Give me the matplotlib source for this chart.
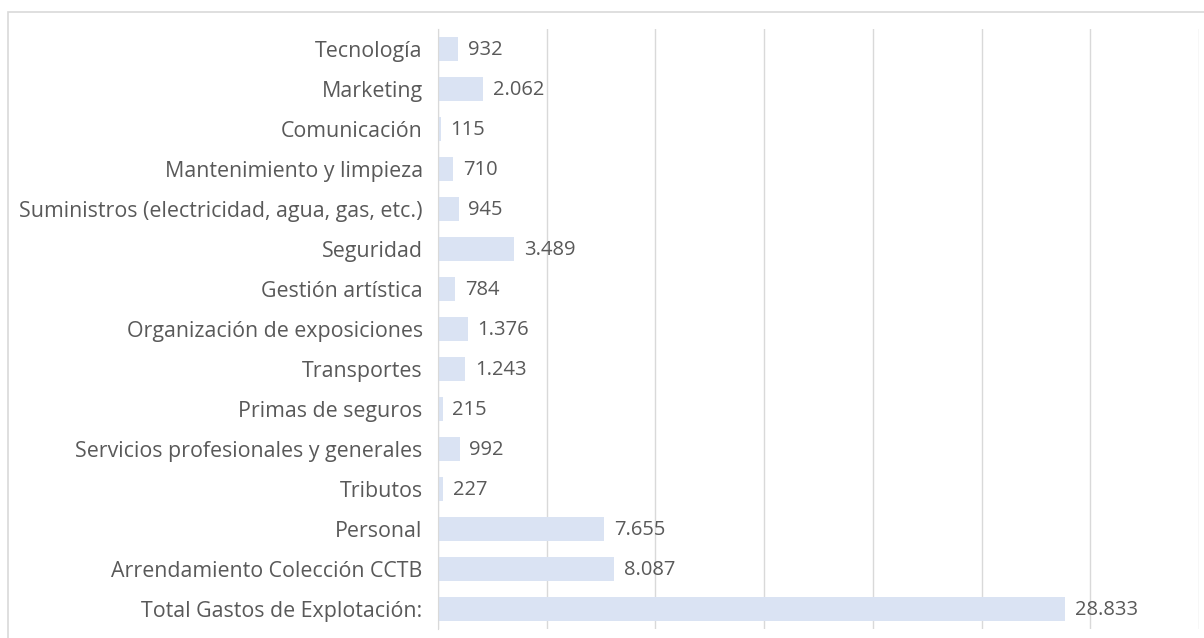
import matplotlib
matplotlib.use("Agg")
import matplotlib.pyplot as plt
from matplotlib.patches import Rectangle

categorias = [
    "Tecnología",
    "Marketing",
    "Comunicación",
    "Mantenimiento y limpieza",
    "Suministros (electricidad, agua, gas, etc.)",
    "Seguridad",
    "Gestión artística",
    "Organización de exposiciones",
    "Transportes",
    "Primas de seguros",
    "Servicios profesionales y generales",
    "Tributos",
    "Personal",
    "Arrendamiento Colección CCTB",
    "Total Gastos de Explotación:",
]
valores = [932, 2062, 115, 710, 945, 3489, 784, 1376, 1243, 215, 992, 227, 7655, 8087, 28833]

plt.rcParams["font.family"] = ["Open Sans", "DejaVu Sans"]
texto = "#595959"

fig = plt.figure(figsize=(12.04, 6.38), dpi=100)
fig.patches.append(Rectangle((8 / 1204, -0.1), 1.2, 1 - 12 / 638 + 0.1,
                             transform=fig.transFigure, fill=False,
                             edgecolor="#d9d9d9", linewidth=1.2))
ax = fig.add_axes([438 / 1204, 9 / 638, 761 / 1204, 600 / 638])

y = list(range(len(categorias)))
ax.barh(y, valores, height=0.58, color="#dae3f3", zorder=2)
for yi, v in zip(y, valores):
    ax.annotate(f"{v:,}".replace(",", "."), (v, yi), xytext=(7, -1),
                textcoords="offset points", va="center", ha="left",
                fontsize=14.5, color=texto, zorder=3)

ax.set_ylim(len(categorias) - 0.5, -0.5)
ax.set_xlim(0, 35000)
ax.set_xticks(range(0, 35001, 5000))
ax.xaxis.grid(True, color="#d9d9d9", linewidth=1)
ax.set_axisbelow(True)
ax.tick_params(axis="x", labelbottom=False, length=0)
ax.set_yticks(y)
ax.set_yticklabels(categorias, fontsize=15.4, color=texto)
ax.tick_params(axis="y", length=0, pad=11)
for s in ["top", "right", "bottom"]:
    ax.spines[s].set_visible(False)
ax.spines["left"].set_color("#d9d9d9")

fig.savefig("out.png", dpi=100)
